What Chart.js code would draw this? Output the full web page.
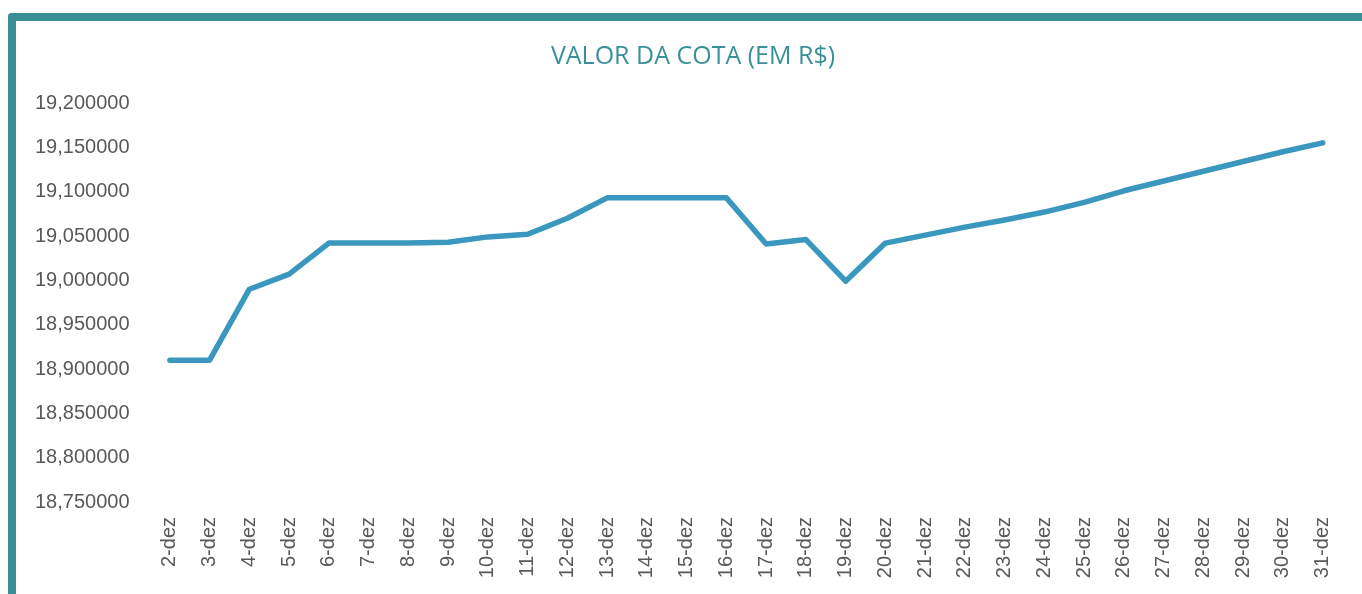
<!DOCTYPE html>
<html>
<head>
<meta charset="utf-8">
<script src="https://cdn.jsdelivr.net/npm/chart.js@4"></script>
<style>
  html, body { margin: 0; padding: 0; background: #fff; }
  body { width: 1362px; height: 594px; position: relative; overflow: hidden; }
  .moldura {
    position: absolute; left: 8px; top: 13px; width: 1400px; height: 640px;
    border-top: 8px solid #3b8f99; border-left: 8px solid #3b8f99;
    border-top-left-radius: 4px; box-sizing: border-box;
  }
  .grafico { position: absolute; left: 16px; top: 21px; width: 1346px; height: 573px; }
</style>
</head>
<body>
<div class="moldura"></div>
<div class="grafico"><canvas id="cotaChart"></canvas></div>
<script>
// dias de dezembro
const dias = ['2-dez', '3-dez', '4-dez', '5-dez', '6-dez', '7-dez', '8-dez', '9-dez', '10-dez', '11-dez',
  '12-dez', '13-dez', '14-dez', '15-dez', '16-dez', '17-dez', '18-dez', '19-dez', '20-dez', '21-dez',
  '22-dez', '23-dez', '24-dez', '25-dez', '26-dez', '27-dez', '28-dez', '29-dez', '30-dez', '31-dez'];

// valor da cota (R$)
const valorCota = [18.910, 18.910, 18.990, 19.007, 19.042, 19.042, 19.042, 19.043, 19.049, 19.052,
  19.070, 19.093, 19.093, 19.093, 19.093, 19.041, 19.046, 18.999, 19.042, 19.051,
  19.060, 19.068, 19.077, 19.088, 19.101, 19.112, 19.123, 19.134, 19.145, 19.155];

const eixoMin = 18.75;
const eixoMax = 19.2;
const eixoPasso = 0.05;

const ctx = document.getElementById('cotaChart');

new Chart(ctx, {
  type: 'line',
  data: {
    labels: dias,
    datasets: [{
      label: 'Valor da cota',
      data: valorCota,
      borderColor: '#3a98be',
      backgroundColor: '#3a98be',
      borderWidth: 5.5,
      pointRadius: 0,
      tension: 0,
      borderCapStyle: 'round',
      borderJoinStyle: 'round'
    }]
  },
  options: {
    responsive: true,
    maintainAspectRatio: false,
    animation: false,
    layout: { padding: { left: 27, right: 19, top: 0, bottom: 0 } },
    plugins: {
      legend: { display: false },
      tooltip: { enabled: false },
      title: {
        display: true,
        text: 'VALOR DA COTA (EM R$)',
        color: '#3a9099',
        font: { family: '"Open Sans"', size: 25, weight: 'normal' },
        padding: { top: 21, bottom: 31 }
      }
    },
    scales: {
      x: {
        offset: true,
        grid: { display: false, drawTicks: false },
        border: { display: false },
        ticks: {
          color: '#595959',
          font: { family: '"Liberation Sans"', size: 20 },
          minRotation: 90,
          maxRotation: 90,
          autoSkip: false,
          padding: 15
        },
        afterFit: (s) => { s.width = s.width; s.height = 92; }
      },
      y: {
        min: eixoMin,
        max: eixoMax,
        grid: { display: false, drawTicks: false },
        border: { display: false },
        ticks: {
          stepSize: eixoPasso,
          color: '#595959',
          font: { family: '"Liberation Sans"', size: 20 },
          // mirror evita o corte dos rótulos; padding negativo os leva de volta à esquerda
          mirror: true,
          crossAlign: 'far',
          padding: -115,
          callback: (v) => v.toFixed(6).replace('.', ',')
        },
        afterFit: (s) => { s.width = 107; }
      }
    }
  }
});
</script>
</body>
</html>
